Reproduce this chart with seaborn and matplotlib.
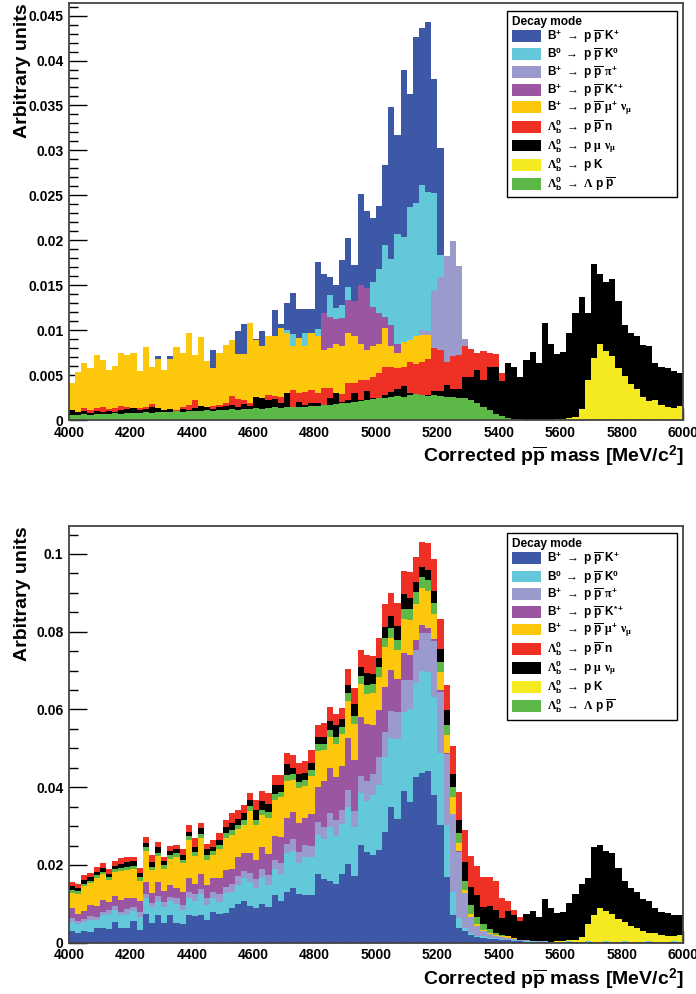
import numpy as np
import pandas as pd
import seaborn as sns
import matplotlib.pyplot as plt
from matplotlib.patches import Patch
from matplotlib.ticker import MultipleLocator, FuncFormatter

sns.set_theme(style='white')
plt.rcParams['font.family'] = ['Liberation Sans', 'DejaVu Sans']
plt.rcParams['font.weight'] = 'bold'
plt.rcParams['mathtext.fontset'] = 'custom'
plt.rcParams['mathtext.rm'] = 'Liberation Sans:bold'
plt.rcParams['mathtext.bf'] = 'Liberation Sans:bold'
plt.rcParams['mathtext.it'] = 'Liberation Serif'
plt.rcParams['mathtext.sf'] = 'Liberation Serif'
plt.rcParams['xtick.color'] = 'black'
plt.rcParams['ytick.color'] = 'black'
plt.rcParams['text.color'] = 'black'
plt.rcParams['axes.labelcolor'] = 'black'

# 20 MeV bins, 4000-6000 MeV
edges = np.arange(4000, 6001, 20)
centers = edges[:-1] + 10

# values, one per bin
b_ppk = [0.0031, 0.0024, 0.0031, 0.0027, 0.0037, 0.0037, 0.0036, 0.0054, 0.0039, 0.0039,
         0.0056, 0.0033, 0.0074, 0.0051, 0.0071, 0.0051, 0.0071, 0.0050, 0.0047, 0.0071,
         0.0069, 0.0071, 0.0058, 0.0078, 0.0075, 0.0077, 0.0088, 0.0099, 0.0107, 0.0094,
         0.0090, 0.0099, 0.0093, 0.0122, 0.0107, 0.0130, 0.0141, 0.0124, 0.0123, 0.0123,
         0.0176, 0.0163, 0.0159, 0.0150, 0.0178, 0.0202, 0.0172, 0.0251, 0.0233, 0.0225,
         0.0238, 0.0284, 0.0348, 0.0317, 0.0390, 0.0363, 0.0426, 0.0436, 0.0443, 0.0379,
         0.0303, 0.0168, 0.0071, 0.0037, 0.0031, 0.0020, 0.0015, 0.0013, 0.0010, 0.0009,
         0.0008, 0.0006, 0.0005, 0.0004, 0.0003, 0.0003, 0.0002, 0.0003, 0.0002, 0.0002,
         0.0002, 0.0003, 0.0002, 0.0002, 0.0003, 0.0002, 0.0002, 0.0003, 0.0002, 0.0002,
         0.0003, 0.0002, 0.0002, 0.0002, 0.0003, 0.0002, 0.0002, 0.0002, 0.0003, 0.0002]
b0_ppk0 = [0.0023, 0.0024, 0.0023, 0.0031, 0.0021, 0.0034, 0.0038, 0.0030, 0.0032, 0.0036,
           0.0025, 0.0034, 0.0040, 0.0042, 0.0037, 0.0042, 0.0035, 0.0050, 0.0037, 0.0045,
           0.0039, 0.0054, 0.0039, 0.0036, 0.0030, 0.0050, 0.0043, 0.0050, 0.0059, 0.0063,
           0.0050, 0.0069, 0.0055, 0.0067, 0.0069, 0.0100, 0.0096, 0.0082, 0.0097, 0.0097,
           0.0101, 0.0104, 0.0139, 0.0125, 0.0128, 0.0148, 0.0126, 0.0133, 0.0131, 0.0154,
           0.0168, 0.0195, 0.0179, 0.0207, 0.0204, 0.0237, 0.0241, 0.0262, 0.0254, 0.0253,
           0.0184, 0.0135, 0.0060, 0.0026, 0.0006, 0.0004, 0.0003, 0.0003, 0.0002, 0.0002,
           0.0002, 0.0001, 0.0002, 0.0001, 0.0001, 0.0001, 0.0001, 0.0001, 0.0001, 0.0001,
           0.0001, 0.0001, 0.0001, 0.0001, 0.0001, 0.0001, 0.0001, 0.0001, 0.0001, 0.0001,
           0.0001, 0.0001, 0.0001, 0.0001, 0.0001, 0.0001, 0.0001, 0.0001, 0.0001, 0.0001]
b_pppi = [0.0009, 0.0008, 0.0008, 0.0010, 0.0009, 0.0008, 0.0010, 0.0011, 0.0009, 0.0012,
          0.0010, 0.0012, 0.0011, 0.0010, 0.0013, 0.0012, 0.0011, 0.0014, 0.0013, 0.0015,
          0.0016, 0.0014, 0.0018, 0.0016, 0.0021, 0.0017, 0.0020, 0.0023, 0.0019, 0.0022,
          0.0024, 0.0021, 0.0026, 0.0023, 0.0028, 0.0025, 0.0030, 0.0027, 0.0031, 0.0029,
          0.0034, 0.0031, 0.0036, 0.0040, 0.0035, 0.0042, 0.0040, 0.0046, 0.0052, 0.0056,
          0.0073, 0.0064, 0.0069, 0.0070, 0.0083, 0.0075, 0.0086, 0.0100, 0.0099, 0.0143,
          0.0159, 0.0182, 0.0199, 0.0171, 0.0090, 0.0043, 0.0026, 0.0015, 0.0010, 0.0007,
          0.0005, 0.0004, 0.0003, 0.0002, 0.0002, 0.0001, 0.0001, 0.0001, 0.0000, 0.0000,
          0.0000, 0.0000, 0.0000, 0.0000, 0.0000, 0.0000, 0.0000, 0.0000, 0.0000, 0.0000,
          0.0000, 0.0000, 0.0000, 0.0000, 0.0000, 0.0000, 0.0000, 0.0000, 0.0000, 0.0000]
b_ppkst = [0.0025, 0.0017, 0.0020, 0.0028, 0.0027, 0.0030, 0.0021, 0.0026, 0.0031, 0.0028,
           0.0025, 0.0027, 0.0030, 0.0024, 0.0034, 0.0029, 0.0031, 0.0026, 0.0033, 0.0036,
           0.0028, 0.0038, 0.0033, 0.0037, 0.0040, 0.0042, 0.0038, 0.0048, 0.0045, 0.0052,
           0.0050, 0.0058, 0.0055, 0.0062, 0.0068, 0.0065, 0.0070, 0.0075, 0.0071, 0.0082,
           0.0090, 0.0119, 0.0115, 0.0112, 0.0113, 0.0134, 0.0132, 0.0150, 0.0147, 0.0126,
           0.0119, 0.0115, 0.0106, 0.0085, 0.0068, 0.0066, 0.0026, 0.0020, 0.0014, 0.0006,
           0.0003, 0.0002, 0.0001, 0.0001, 0.0000, 0.0000, 0.0000, 0.0000, 0.0000, 0.0000,
           0.0000, 0.0000, 0.0000, 0.0000, 0.0000, 0.0000, 0.0000, 0.0000, 0.0000, 0.0000,
           0.0000, 0.0000, 0.0000, 0.0000, 0.0000, 0.0000, 0.0000, 0.0000, 0.0000, 0.0000,
           0.0000, 0.0000, 0.0000, 0.0000, 0.0000, 0.0000, 0.0000, 0.0000, 0.0000, 0.0000]
b_ppmunu = [0.0041, 0.0053, 0.0063, 0.0058, 0.0072, 0.0067, 0.0056, 0.0060, 0.0074, 0.0072,
            0.0074, 0.0054, 0.0081, 0.0059, 0.0068, 0.0056, 0.0068, 0.0081, 0.0074, 0.0097,
            0.0072, 0.0092, 0.0066, 0.0058, 0.0074, 0.0084, 0.0089, 0.0073, 0.0073, 0.0108,
            0.0089, 0.0082, 0.0093, 0.0094, 0.0102, 0.0097, 0.0082, 0.0091, 0.0082, 0.0097,
            0.0093, 0.0078, 0.0080, 0.0085, 0.0082, 0.0097, 0.0093, 0.0085, 0.0078, 0.0082,
            0.0085, 0.0102, 0.0082, 0.0074, 0.0087, 0.0089, 0.0093, 0.0095, 0.0095, 0.0065,
            0.0047, 0.0047, 0.0043, 0.0021, 0.0009, 0.0007, 0.0004, 0.0002, 0.0002, 0.0001,
            0.0002, 0.0005, 0.0001, 0.0000, 0.0000, 0.0000, 0.0000, 0.0000, 0.0000, 0.0000,
            0.0000, 0.0000, 0.0000, 0.0000, 0.0000, 0.0000, 0.0000, 0.0000, 0.0000, 0.0000,
            0.0000, 0.0000, 0.0000, 0.0000, 0.0000, 0.0000, 0.0000, 0.0000, 0.0000, 0.0000]
lb_ppn = [0.0011, 0.0009, 0.0013, 0.0011, 0.0013, 0.0014, 0.0012, 0.0013, 0.0016, 0.0014,
          0.0010, 0.0013, 0.0015, 0.0018, 0.0013, 0.0011, 0.0012, 0.0011, 0.0015, 0.0017,
          0.0022, 0.0013, 0.0015, 0.0016, 0.0017, 0.0019, 0.0027, 0.0023, 0.0022, 0.0019,
          0.0026, 0.0025, 0.0028, 0.0027, 0.0026, 0.0028, 0.0033, 0.0030, 0.0031, 0.0033,
          0.0030, 0.0036, 0.0036, 0.0029, 0.0029, 0.0041, 0.0041, 0.0045, 0.0045, 0.0048,
          0.0052, 0.0059, 0.0059, 0.0058, 0.0059, 0.0065, 0.0062, 0.0065, 0.0068, 0.0080,
          0.0078, 0.0065, 0.0071, 0.0072, 0.0082, 0.0079, 0.0074, 0.0077, 0.0075, 0.0073,
          0.0052, 0.0026, 0.0012, 0.0010, 0.0000, 0.0000, 0.0000, 0.0000, 0.0000, 0.0000,
          0.0000, 0.0000, 0.0000, 0.0000, 0.0000, 0.0000, 0.0000, 0.0000, 0.0000, 0.0000,
          0.0000, 0.0000, 0.0000, 0.0000, 0.0000, 0.0000, 0.0000, 0.0000, 0.0000, 0.0000]
lb_pmunu = [0.0011, 0.0009, 0.0010, 0.0008, 0.0010, 0.0009, 0.0010, 0.0009, 0.0011, 0.0012,
            0.0013, 0.0011, 0.0012, 0.0014, 0.0013, 0.0011, 0.0012, 0.0010, 0.0012, 0.0011,
            0.0013, 0.0016, 0.0015, 0.0012, 0.0014, 0.0016, 0.0017, 0.0015, 0.0018, 0.0016,
            0.0026, 0.0024, 0.0022, 0.0023, 0.0019, 0.0030, 0.0015, 0.0020, 0.0017, 0.0019,
            0.0019, 0.0017, 0.0024, 0.0030, 0.0020, 0.0022, 0.0030, 0.0022, 0.0032, 0.0024,
            0.0024, 0.0028, 0.0031, 0.0035, 0.0038, 0.0030, 0.0028, 0.0026, 0.0028, 0.0032,
            0.0032, 0.0039, 0.0035, 0.0034, 0.0048, 0.0048, 0.0056, 0.0045, 0.0059, 0.0059,
            0.0043, 0.0063, 0.0059, 0.0048, 0.0067, 0.0076, 0.0063, 0.0108, 0.0085, 0.0073,
            0.0076, 0.0097, 0.0119, 0.0137, 0.0119, 0.0174, 0.0163, 0.0154, 0.0157, 0.0132,
            0.0106, 0.0097, 0.0093, 0.0084, 0.0082, 0.0063, 0.0059, 0.0058, 0.0054, 0.0052]
lb_pk = [0.0000] * 79 + [0.0001, 0.0001, 0.0002, 0.0003, 0.0012, 0.0044, 0.0069, 0.0085,
                         0.0077, 0.0071, 0.0058, 0.0049, 0.0040, 0.0034, 0.0026, 0.0021,
                         0.0022, 0.0017, 0.0015, 0.0013, 0.0016]
lb_lppbar = [0.0006, 0.0006, 0.0007, 0.0006, 0.0007, 0.0007, 0.0007, 0.0008, 0.0007, 0.0008,
             0.0008, 0.0008, 0.0009, 0.0008, 0.0009, 0.0009, 0.0009, 0.0010, 0.0009, 0.0010,
             0.0010, 0.0010, 0.0011, 0.0010, 0.0011, 0.0011, 0.0012, 0.0011, 0.0012, 0.0012,
             0.0013, 0.0012, 0.0013, 0.0014, 0.0013, 0.0014, 0.0015, 0.0014, 0.0015, 0.0016,
             0.0016, 0.0017, 0.0017, 0.0018, 0.0019, 0.0019, 0.0020, 0.0021, 0.0022, 0.0023,
             0.0025, 0.0024, 0.0026, 0.0027, 0.0026, 0.0028, 0.0029, 0.0028, 0.0027, 0.0028,
             0.0027, 0.0026, 0.0026, 0.0025, 0.0024, 0.0022, 0.0019, 0.0015, 0.0011, 0.0007,
             0.0004, 0.0002, 0.0001, 0.0001] + [0.0000] * 26

modes = ['B+ ppK+', 'B0 ppK0', 'B+ pppi+', 'B+ ppK*+', 'B+ ppmunu',
         'Lb ppn', 'Lb pmunu', 'Lb pK', 'Lb Lpp']
values = [b_ppk, b0_ppk0, b_pppi, b_ppkst, b_ppmunu, lb_ppn, lb_pmunu, lb_pk, lb_lppbar]
colors = ['#3C58A6', '#63C8DA', '#9A9ACC', '#9B56A2', '#FDC70C',
          '#EE3124', '#000000', '#F4EA1F', '#5CB947']
arr = r'$\mathsf{\rightarrow}$'
lb = r'$\mathsf{\Lambda}_{\mathrm{b}}^{0}$'
pbar = r'$\overline{\mathrm{p}}$'
labels = [r'B$^{+}$ ' + arr + ' p ' + pbar + r' K$^{+}$',
          r'B$^{0}$ ' + arr + ' p ' + pbar + r' K$^{0}$',
          r'B$^{+}$ ' + arr + ' p ' + pbar + r' $\pi^{+}$',
          r'B$^{+}$ ' + arr + ' p ' + pbar + r' K$^{*+}$',
          r'B$^{+}$ ' + arr + ' p ' + pbar + r' $\mu^{+}$ $\nu_{\mu}$',
          lb + ' ' + arr + ' p ' + pbar + ' n',
          lb + ' ' + arr + r' p $\mu$ $\nu_{\mu}$',
          lb + ' ' + arr + ' p K',
          lb + ' ' + arr + r' $\mathsf{\Lambda}$ p ' + pbar]
palette = dict(zip(modes, colors))
# bottom -> top order of the stacked plot
stack_order = ['B+ ppK+', 'B0 ppK0', 'B+ pppi+', 'B+ ppK*+', 'B+ ppmunu',
               'Lb pK', 'Lb Lpp', 'Lb pmunu', 'Lb ppn']

df = pd.concat([pd.DataFrame({'mass': centers, 'weight': v, 'mode': m})
                for m, v in zip(modes, values)], ignore_index=True)

fig = plt.figure(figsize=(6.96, 9.94), dpi=100)
ax1 = fig.add_axes([69 / 696, 1 - 420 / 994, 614 / 696, 417 / 994])
ax2 = fig.add_axes([69 / 696, 51.3 / 994, 614 / 696, 416.7 / 994])

hist_kw = dict(x='mass', weights='weight', binwidth=20, binrange=(4000, 6000),
               element='step', fill=True, alpha=1, linewidth=0)

# ## Top: histograms drawn over each other ## #
for m, c in zip(modes, colors):
    sns.histplot(data=df[df['mode'] == m], color=c, zorder=3, ax=ax1, **hist_kw)

# ## Bottom: stacked ## #
sns.histplot(data=df, hue='mode', hue_order=stack_order[::-1], palette=palette,
             multiple='stack', legend=False, ax=ax2, **hist_kw)

fmt = FuncFormatter(lambda v, p: '%g' % round(v, 4))
for ax, ymax, ymaj, ymin, legtop in [(ax1, 0.0464, 0.005, 0.001, 0.981),
                                     (ax2, 0.1072, 0.02, 0.005, 0.983)]:
    ax.set_xlim(4000, 6000)
    ax.set_ylim(0, ymax)
    ax.xaxis.set_major_locator(MultipleLocator(200))
    ax.xaxis.set_minor_locator(MultipleLocator(50))
    ax.yaxis.set_major_locator(MultipleLocator(ymaj))
    ax.yaxis.set_minor_locator(MultipleLocator(ymin))
    ax.yaxis.set_major_formatter(fmt)
    ax.tick_params(axis='x', which='major', direction='in', length=8.6, width=1,
                   labelsize=10, pad=4, bottom=True, top=False)
    ax.tick_params(axis='x', which='minor', direction='in', length=4.3, width=1,
                   bottom=True, top=False)
    ax.tick_params(axis='y', which='major', direction='in', length=13, width=1,
                   labelsize=10, pad=4, left=True, right=False)
    ax.tick_params(axis='y', which='minor', direction='in', length=6.5, width=1,
                   left=True, right=False)
    for s in ax.spines.values():
        s.set_color('#444444')
        s.set_linewidth(1.3)
        s.set_zorder(5)
    ax.set_ylabel('Arbitrary units', loc='top', fontsize=14, fontweight='bold')
    ax.yaxis.set_label_coords(-38 / 614, 1.0)
    ax.set_xlabel(r'Corrected p$\overline{\mathrm{p}}$ mass [MeV/c$^{2}$]', loc='right',
                  fontsize=14, fontweight='bold', labelpad=3.5)
    handles = [Patch(facecolor=c, edgecolor='none', label=l) for c, l in zip(colors, labels)]
    leg = ax.legend(handles=handles, loc='upper left', mode='expand',
                    bbox_to_anchor=(0.713, 0.0, 0.277, legtop),
                    title='Decay mode', alignment='left', fontsize=8.6,
                    title_fontproperties={'weight': 'bold', 'size': 8.6},
                    frameon=True, fancybox=False, edgecolor='black', framealpha=1,
                    borderaxespad=0, handlelength=2.5, handleheight=1.15,
                    handletextpad=0.5, labelspacing=0.05, borderpad=0.4)
    leg.get_frame().set_linewidth(1.0)
    leg.set_zorder(10)

fig.savefig('out.png', dpi=100)
